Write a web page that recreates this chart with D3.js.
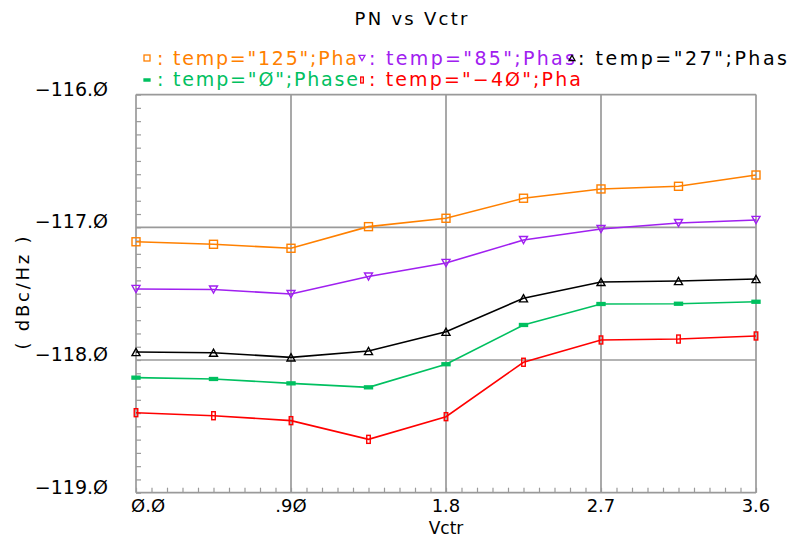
<!DOCTYPE html>
<html>
<head>
<meta charset="utf-8">
<script src="https://cdn.jsdelivr.net/npm/d3@7"></script>
<style>
  html, body { margin: 0; padding: 0; background: #fff; }
  svg { display: block; }
  text { font-family: "DejaVu Sans", sans-serif; }
</style>
</head>
<body>
<svg id="chart" width="789" height="539"></svg>
<script>
// Control voltage sweep points (V)
const vctr = [0, 0.45, 0.9, 1.35, 1.8, 2.25, 2.7, 3.15, 3.6];

// Phase noise (dBc/Hz) per temperature corner
const pn125 = [-117.109, -117.128, -117.158, -116.995, -116.932, -116.781, -116.711, -116.691, -116.606];
const pn85  = [-117.465, -117.469, -117.503, -117.371, -117.269, -117.096, -117.013, -116.968, -116.945];
const pn27  = [-117.940, -117.945, -117.980, -117.932, -117.787, -117.535, -117.412, -117.405, -117.390];
const pn0   = [-118.133, -118.143, -118.176, -118.206, -118.032, -117.736, -117.578, -117.576, -117.561];
const pnM40 = [-118.397, -118.420, -118.457, -118.598, -118.427, -118.017, -117.849, -117.842, -117.819];

// Legend labels as shown (truncated trace names)
const legendLabels = [
  ': temp="125";Pha',
  ': temp="85";Phas',
  ': temp="27";Phas',
  ': temp="Ø";Phase',
  ': temp="\u22124Ø";Pha'
];

// Axis ticks
const xTickValues = [0, 0.9, 1.8, 2.7, 3.6];
const xTickLabels = ["Ø.Ø", ".9Ø", "1.8", "2.7", "3.6"];
const yTickValues = [-116, -117, -118, -119];
const yTickLabels = ["\u2212116.Ø", "\u2212117.Ø", "\u2212118.Ø", "\u2212119.Ø"];

const svg = d3.select("#chart");
const x = d3.scaleLinear().domain([0, 3.6]).range([136, 756]);
const y = d3.scaleLinear().domain([-119, -116]).range([492.7, 94.6]);

const gridColor = "#9a9a9a";

// Minor ticks: left axis every 0.1 dB, bottom axis every 0.09 V
const yMinor = d3.range(0, 31).map(i => -119 + i * 0.1);
const xMinor = d3.range(0, 41).map(i => i * 0.09);

svg.append("g")
  .attr("transform", `translate(${x(0)},0)`)
  .call(d3.axisLeft(y).tickValues(yMinor).tickSize(-5).tickFormat(""))
  .call(g => g.select(".domain").remove())
  .call(g => g.selectAll("line").attr("stroke", gridColor).attr("stroke-width", 1.2));

svg.append("g")
  .attr("transform", `translate(0,${y(-119)})`)
  .call(d3.axisBottom(x).tickValues(xMinor).tickSize(-5).tickFormat(""))
  .call(g => g.select(".domain").remove())
  .call(g => g.selectAll("line").attr("stroke", gridColor).attr("stroke-width", 1.2));

// Grid lines and frame
const grid = svg.append("g").attr("stroke", gridColor).attr("stroke-width", 1.7).attr("fill", "none");
grid.selectAll("line.h").data([-116, -117, -118, -119]).join("line")
  .attr("x1", x(0)).attr("x2", x(3.6))
  .attr("y1", d => y(d)).attr("y2", d => y(d));
grid.selectAll("line.v").data([0, 0.9, 1.8, 2.7, 3.6]).join("line")
  .attr("x1", d => x(d)).attr("x2", d => x(d))
  .attr("y1", y(-116)).attr("y2", y(-119));

// Y tick labels
svg.append("g").selectAll("text").data(yTickValues).join("text")
  .attr("x", 108).attr("y", d => y(d) + 1)
  .attr("text-anchor", "end")
  .attr("font-size", 19)
  .attr("fill", "#000")
  .text((d, i) => yTickLabels[i]);

// X tick labels
svg.append("g").selectAll("text").data(xTickValues).join("text")
  .attr("x", (d, i) => i === 0 ? x(d) - 5 : x(d))
  .attr("y", 512)
  .attr("text-anchor", (d, i) => i === 0 ? "start" : "middle")
  .attr("font-size", 18)
  .attr("fill", "#000")
  .text((d, i) => xTickLabels[i]);

// Axis titles and chart title
svg.append("text").attr("x", 446).attr("y", 534).attr("text-anchor", "middle")
  .attr("font-size", 17).text("Vctr");
svg.append("text").attr("x", 411).attr("y", 25).attr("text-anchor", "middle")
  .attr("font-size", 18).attr("textLength", 113).attr("lengthAdjust", "spacing").text("PN vs Vctr");
svg.append("text")
  .attr("transform", "translate(29,293) rotate(-90)")
  .attr("text-anchor", "middle")
  .attr("font-size", 18).attr("textLength", 113).attr("lengthAdjust", "spacing")
  .text("( dBc/Hz )");

// Marker shapes
const markers = {
  square: (g, s) => g.append("rect").attr("x", -s/2).attr("y", -s/2).attr("width", s).attr("height", s).attr("fill", "none"),
  down: (g, s) => g.append("path").attr("d", `M${-s/2},${-s*0.45}L${s/2},${-s*0.45}L0,${s*0.45}Z`).attr("fill", "none"),
  up: (g, s) => g.append("path").attr("d", `M${-s/2},${s*0.45}L${s/2},${s*0.45}L0,${-s*0.45}Z`).attr("fill", "none"),
  flat: (g, s) => g.append("rect").attr("x", -s/2).attr("y", -s*0.18).attr("width", s).attr("height", s*0.36),
  tall: (g, s) => g.append("rect").attr("x", -s*0.22).attr("y", -s/2).attr("width", s*0.44).attr("height", s).attr("fill", "none")
};

const series = [
  { values: pn125, color: "#ff8000", marker: "square" },
  { values: pn85,  color: "#a020f0", marker: "down" },
  { values: pn27,  color: "#000000", marker: "up" },
  { values: pn0,   color: "#00c060", marker: "flat" },
  { values: pnM40, color: "#ff0000", marker: "tall" }
];

const line = d3.line().x(d => x(d[0])).y(d => y(d[1]));

series.forEach(s => {
  const pts = vctr.map((v, i) => [v, s.values[i]]);
  svg.append("path").datum(pts)
    .attr("d", line).attr("fill", "none")
    .attr("stroke", s.color).attr("stroke-width", 1.6);
  const mg = svg.append("g");
  pts.forEach(p => {
    const g = mg.append("g").attr("transform", `translate(${x(p[0])},${y(p[1])})`);
    markers[s.marker](g, 8).attr("stroke", s.color).attr("stroke-width", 1.4)
      .attr("fill", s.marker === "flat" ? s.color : "none");
  });
});

// Legend: two rows, three columns
const legendPos = [
  { mx: 147, my: 58, tx: 157, ty: 65, len: 200 },
  { mx: 362, my: 58, tx: 369, ty: 65, len: 206 },
  { mx: 572, my: 58, tx: 578, ty: 65, len: 209 },
  { mx: 147, my: 80, tx: 157, ty: 86, len: 201 },
  { mx: 362, my: 80, tx: 369, ty: 86, len: 212 }
];
const leg = svg.append("g");
series.forEach((s, i) => {
  const p = legendPos[i];
  const g = leg.append("g").attr("transform", `translate(${p.mx},${p.my})`);
  markers[s.marker](g, 6).attr("stroke", s.color).attr("stroke-width", 1.3)
    .attr("fill", s.marker === "flat" ? s.color : "none");
  leg.append("text").attr("x", p.tx).attr("y", p.ty)
    .attr("font-size", 19).attr("fill", s.color)
    .attr("textLength", p.len).attr("lengthAdjust", "spacing")
    .text(legendLabels[i]);
});
</script>
</body>
</html>
